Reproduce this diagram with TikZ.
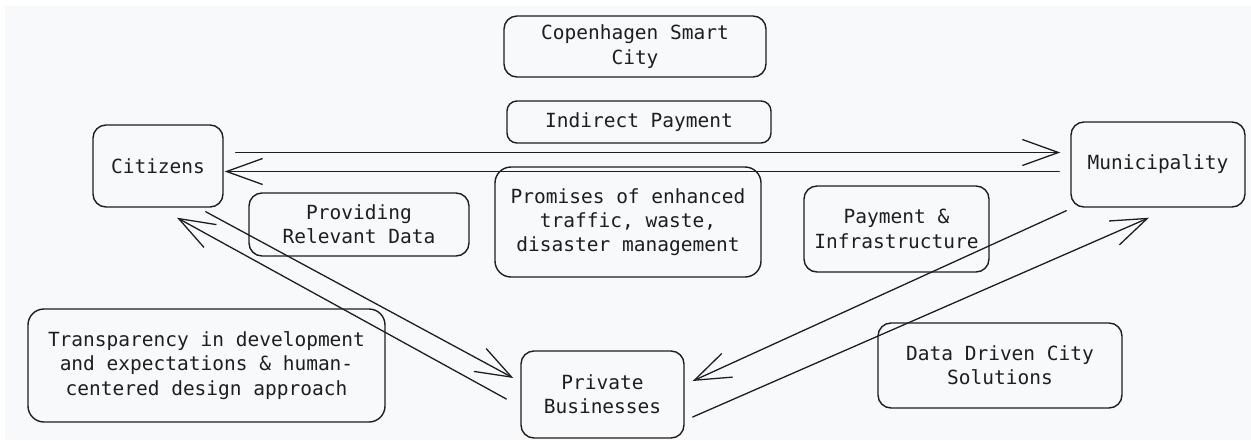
\documentclass[tikz,border=0pt]{standalone}
\usepackage{fontspec}
\newfontfamily\sketchfont{DejaVu Sans Mono}
\usetikzlibrary{arrows.meta}
\definecolor{ink}{HTML}{1E1E1E}
\definecolor{canvas}{HTML}{F8F9FA}
\begin{document}
\begin{tikzpicture}[x=1pt,y=-1pt,
  card/.style={draw=ink, line width=1.4pt, rounded corners=13pt, align=center,
    text=ink, inner sep=0pt,
    font=\sketchfont\fontsize{19.5}{24.3}\selectfont},
  flow/.style={draw=ink, line width=1.3pt, line cap=round,
    -{Straight Barb[length=36pt,width=26pt,line width=1.3pt]}}]

% canvas
\useasboundingbox (0,0) rectangle (1251,440);
\fill[white] (0,0) rectangle (1251,440);
\fill[canvas] (5,6) rectangle (1251,440);

% actors
\node[card, minimum width=130pt, minimum height=82pt] (cit) at (158,166) {Citizens};
\node[card, minimum width=174pt, minimum height=85pt] (muni) at (1158,164.5) {Municipality};
\node[card, minimum width=163pt, minimum height=87pt] (priv) at (602.5,394.5) {Private\\Businesses};

% labels
\node[card, minimum width=262pt, minimum height=61pt] (city) at (635,46.5) {Copenhagen Smart\\City};
\node[card, rounded corners=10pt, minimum width=264pt, minimum height=42pt] (pay) at (639,122) {Indirect Payment};
\node[card, minimum width=220pt, minimum height=63pt] (data) at (359,224.5) {Providing\\Relevant Data};
\node[card, rounded corners=16pt, minimum width=266pt, minimum height=110pt] (prom) at (628,222) {Promises of enhanced\\traffic, waste,\\disaster management};
\node[card, minimum width=185pt, minimum height=86pt] (infra) at (896.5,229) {Payment \&\\Infrastructure};
\node[card, rounded corners=16pt, minimum width=357pt, minimum height=113pt] (transp) at (206.5,365.5) {Transparency in development\\and expectations \& human-\\centered design approach};
\node[card, minimum width=244pt, minimum height=85pt] (sol) at (1000,365.5) {Data Driven City\\Solutions};

% connector ends
\coordinate (h1s) at ([shift={(12,-13.5)}]cit.east);
\coordinate (h1e) at ([shift={(-10,-12)}]muni.west);
\coordinate (h2s) at ([shift={(-11,7)}]muni.west);
\coordinate (h2e) at ([shift={(1,5.5)}]cit.east);
\coordinate (d1s) at ([shift={(-18,4)}]cit.south east);
\coordinate (d1e) at ([shift={(-7,-16.5)}]priv.west);
\coordinate (d2s) at ([shift={(-14,4.5)}]priv.west);
\coordinate (d2e) at ([shift={(19,10)}]cit.south);
\coordinate (d3s) at ([shift={(-4,3)}]muni.south west);
\coordinate (d3e) at ([shift={(8,-13.5)}]priv.east);
\coordinate (d4s) at ([shift={(8,22.5)}]priv.east);
\coordinate (d4e) at ([shift={(-9,10)}]muni.south);

% flows
\draw[flow] (h1s) -- (h1e);
\draw[flow] (h2s) -- (h2e);
\draw[flow] (d1s) -- (d1e);
\draw[flow] (d2s) -- (d2e);
\draw[flow] (d3s) -- (d3e);
\draw[flow] (d4s) -- (d4e);
\end{tikzpicture}
\end{document}
